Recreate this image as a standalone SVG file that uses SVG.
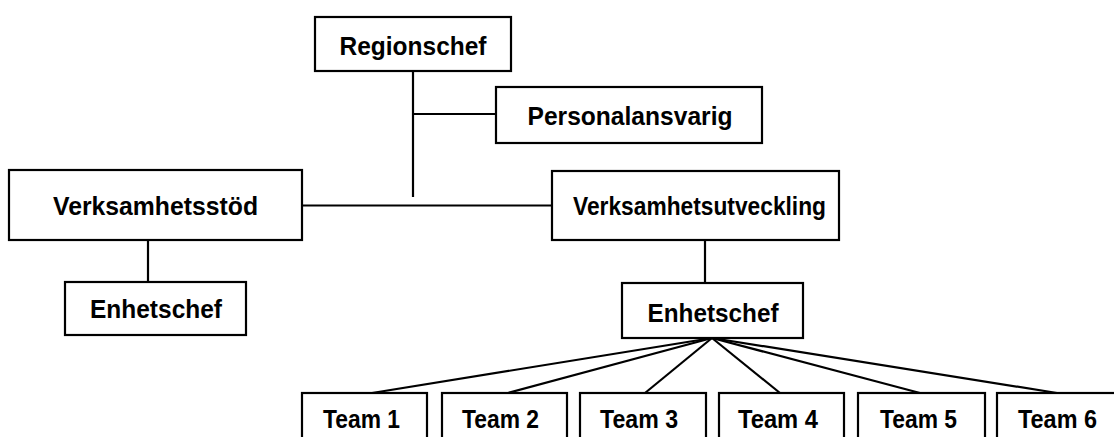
<svg xmlns="http://www.w3.org/2000/svg" width="1114" height="437" viewBox="0 0 1114 437">
<style>
.box{fill:#fff;stroke:#000;stroke-width:2.2}
.ln{stroke:#000;stroke-width:2.2;fill:none}
.t{font-family:"Liberation Sans",Arial,sans-serif;font-weight:bold;font-size:25px;fill:#000;text-anchor:middle}
</style>
<rect width="1114" height="437" fill="#fff"/>
<g id="connectors">
<line class="ln" x1="413" y1="71" x2="413" y2="197"/>
<line class="ln" x1="413" y1="114" x2="496" y2="114"/>
<line class="ln" x1="302" y1="205.5" x2="552" y2="205.5"/>
<line class="ln" x1="148" y1="240" x2="148" y2="282"/>
<line class="ln" x1="705" y1="240" x2="705" y2="283"/>
<line class="ln" x1="712" y1="338" x2="372" y2="393"/>
<line class="ln" x1="712" y1="338" x2="508" y2="393"/>
<line class="ln" x1="712" y1="338" x2="645" y2="393"/>
<line class="ln" x1="712" y1="338" x2="780" y2="393"/>
<line class="ln" x1="712" y1="338" x2="920" y2="393"/>
<line class="ln" x1="712" y1="338" x2="1057" y2="393"/>
</g>
<g id="regionschef">
<rect class="box" x="315" y="17" width="196" height="54"/>
<text class="t" x="413" y="55" textLength="147" lengthAdjust="spacingAndGlyphs">Regionschef</text>
</g>
<g id="personalansvarig">
<rect class="box" x="496" y="87" width="266" height="56"/>
<text class="t" x="630" y="125" textLength="205" lengthAdjust="spacingAndGlyphs">Personalansvarig</text>
</g>
<g id="verksamhetsstod">
<rect class="box" x="9" y="170" width="293" height="70"/>
<text class="t" x="155.5" y="215" textLength="205" lengthAdjust="spacingAndGlyphs">Verksamhetsstöd</text>
</g>
<g id="verksamhetsutveckling">
<rect class="box" x="552" y="171" width="287" height="69"/>
<text class="t" x="699.5" y="215" textLength="253" lengthAdjust="spacingAndGlyphs">Verksamhetsutveckling</text>
</g>
<g id="enhetschef-left">
<rect class="box" x="65" y="282" width="181" height="53"/>
<text class="t" x="156" y="318" textLength="132" lengthAdjust="spacingAndGlyphs">Enhetschef</text>
</g>
<g id="enhetschef-right">
<rect class="box" x="622" y="283" width="181" height="55"/>
<text class="t" x="713" y="322" textLength="131" lengthAdjust="spacingAndGlyphs">Enhetschef</text>
</g>
<g id="team1">
<rect class="box" x="302" y="393" width="125" height="60"/>
<text class="t" x="361.5" y="428" textLength="77" lengthAdjust="spacingAndGlyphs">Team 1</text>
</g>
<g id="team2">
<rect class="box" x="442" y="393" width="125" height="60"/>
<text class="t" x="500.5" y="428" textLength="77" lengthAdjust="spacingAndGlyphs">Team 2</text>
</g>
<g id="team3">
<rect class="box" x="580" y="393" width="126" height="60"/>
<text class="t" x="639" y="428" textLength="78" lengthAdjust="spacingAndGlyphs">Team 3</text>
</g>
<g id="team4">
<rect class="box" x="719" y="393" width="125" height="60"/>
<text class="t" x="778" y="428" textLength="80" lengthAdjust="spacingAndGlyphs">Team 4</text>
</g>
<g id="team5">
<rect class="box" x="858" y="393" width="127" height="60"/>
<text class="t" x="918.5" y="428" textLength="77" lengthAdjust="spacingAndGlyphs">Team 5</text>
</g>
<g id="team6">
<rect class="box" x="997" y="393" width="130" height="60"/>
<text class="t" x="1057.5" y="428" textLength="79" lengthAdjust="spacingAndGlyphs">Team 6</text>
</g>
</svg>
